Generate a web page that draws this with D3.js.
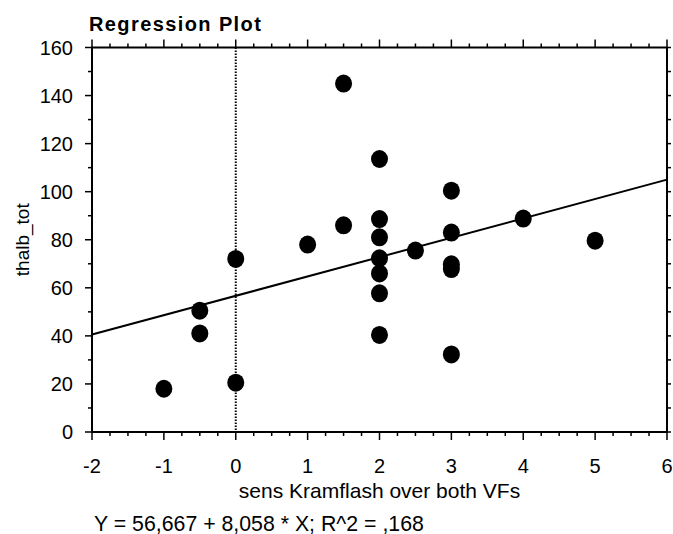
<!DOCTYPE html>
<html>
<head>
<meta charset="utf-8">
<script src="https://cdn.jsdelivr.net/npm/d3@7"></script>
<style>
    body { margin: 0; background: #fff; }
    text { font-family: "Liberation Sans", Arial, sans-serif; fill: #000; }
</style>
</head>
<body>
<svg width="673" height="534"></svg>
<script>
// sens Kramflash over both VFs
const xValues = [-1, -0.5, -0.5, 0, 0, 1, 1.5, 1.5, 2, 2, 2, 2, 2, 2, 2, 2.5, 3, 3, 3, 3, 3, 4, 5];
// thalb_tot
const yValues = [18, 50.5, 41, 72, 20.5, 78, 145, 86, 113.6, 88.6, 81, 72.3, 66, 57.7, 40.4, 75.5, 100.4, 83, 69.8, 67.8, 32.3, 88.8, 79.6];

const xTicks = [-2, -1, 0, 1, 2, 3, 4, 5, 6];
const yTicks = [0, 20, 40, 60, 80, 100, 120, 140, 160];

const intercept = 56.667;
const slope = 8.058;
const equation = "Y = 56,667 + 8,058 * X; R^2 = ,168";

const svg = d3.select("svg");
const plotLeft = 92, plotRight = 667, plotTop = 47.5, plotBottom = 432;

const x = d3.scaleLinear().domain([-2, 6]).range([plotLeft, plotRight]);
const y = d3.scaleLinear().domain([0, 160]).range([plotBottom, plotTop]);

const points = xValues.map((v, i) => ({ x: v, y: yValues[i] }));

// minor ticks
const xMinor = d3.range(-2, 6.001, 0.25);
const yMinor = d3.range(0, 160.001, 10);

const g = svg.append("g");

function ticks(sel) {
    sel.attr("stroke", "#000").attr("stroke-width", 1.5);
}

// bottom
g.append("g").call(ticks).selectAll("line").data(xMinor).join("line")
    .attr("x1", d => x(d)).attr("x2", d => x(d))
    .attr("y1", plotBottom).attr("y2", d => Number.isInteger(d) ? plotBottom + 8 : plotBottom + 4);
// top
g.append("g").call(ticks).selectAll("line").data(xMinor).join("line")
    .attr("x1", d => x(d)).attr("x2", d => x(d))
    .attr("y1", plotTop).attr("y2", d => Number.isInteger(d) ? plotTop - 8 : plotTop - 4);
// left
g.append("g").call(ticks).selectAll("line").data(yMinor).join("line")
    .attr("y1", d => y(d)).attr("y2", d => y(d))
    .attr("x1", plotLeft).attr("x2", d => d % 20 === 0 ? plotLeft - 7 : plotLeft - 4);
// right
g.append("g").call(ticks).selectAll("line").data(yMinor).join("line")
    .attr("y1", d => y(d)).attr("y2", d => y(d))
    .attr("x1", plotRight).attr("x2", plotRight + 4);

// frame
g.append("rect")
    .attr("x", plotLeft).attr("y", plotTop)
    .attr("width", plotRight - plotLeft).attr("height", plotBottom - plotTop)
    .attr("fill", "none").attr("stroke", "#000").attr("stroke-width", 2);

// zero line
g.append("line")
    .attr("x1", x(0)).attr("x2", x(0))
    .attr("y1", plotTop).attr("y2", plotBottom)
    .attr("stroke", "#000").attr("stroke-width", 2)
    .attr("stroke-dasharray", "1.5,1.5");

// tick labels
g.append("g").selectAll("text").data(xTicks).join("text")
    .attr("x", d => x(d)).attr("y", 472.5)
    .attr("text-anchor", "middle")
    .style("font-size", "20px")
    .text(d => d);

g.append("g").selectAll("text").data(yTicks).join("text")
    .attr("x", 73).attr("y", d => y(d) + 7)
    .attr("text-anchor", "end")
    .style("font-size", "20px")
    .text(d => d);

// regression line
g.append("line")
    .attr("x1", x(-2)).attr("y1", y(intercept + slope * -2))
    .attr("x2", x(6)).attr("y2", y(intercept + slope * 6))
    .attr("stroke", "#000").attr("stroke-width", 2);

// points
g.append("g").selectAll("ellipse").data(points).join("ellipse")
    .attr("cx", d => x(d.x)).attr("cy", d => y(d.y))
    .attr("rx", 8.5).attr("ry", 9)
    .attr("fill", "#000");

// titles
svg.append("text")
    .attr("x", 89).attr("y", 30.5)
    .style("font-size", "20px").style("font-weight", "bold")
    .style("letter-spacing", "1.4px")
    .text("Regression Plot");

svg.append("text")
    .attr("x", (plotLeft + plotRight) / 2).attr("y", 497.5)
    .attr("text-anchor", "middle")
    .style("font-size", "21px")
    .text("sens Kramflash over both VFs");

svg.append("text")
    .attr("transform", `translate(29,${(plotTop + plotBottom) / 2}) rotate(-90)`)
    .attr("text-anchor", "middle")
    .style("font-size", "19px")
    .text("thalb_tot");

svg.append("text")
    .attr("x", 94).attr("y", 530.5)
    .style("font-size", "21.3px")
    .text(equation);
</script>
</body>
</html>
